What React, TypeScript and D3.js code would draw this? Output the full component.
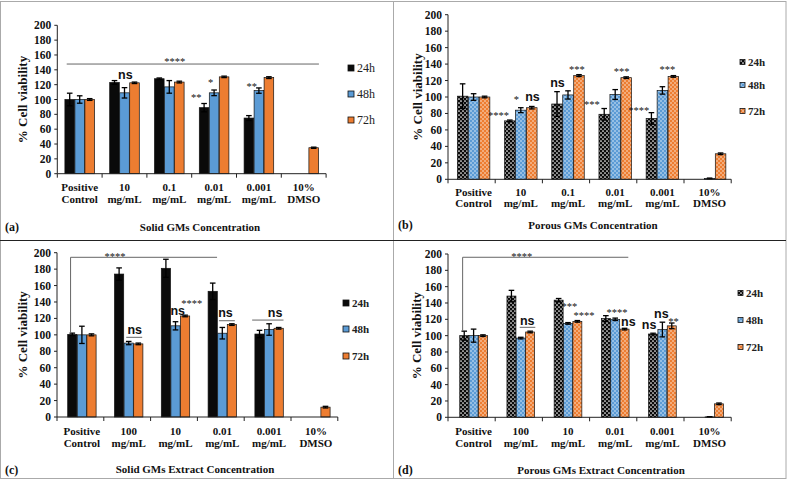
import React from "react";
import * as d3 from "d3";

const seriesNames = ["24h", "48h", "72h"];
const catsGMs = ["Positive|Control", "10|mg/mL", "0.1|mg/mL", "0.01|mg/mL", "0.001|mg/mL", "10%|DMSO"];
const catsExtract = ["Positive|Control", "100|mg/mL", "10|mg/mL", "0.01|mg/mL", "0.001|mg/mL", "10%|DMSO"];
const yTicks = [0, 20, 40, 60, 80, 100, 120, 140, 160, 180, 200];

// (a) Solid GMs
const a24 = [100, 123, 128, 89, 75, 0];
const a24e = [8.5, 2.5, 1, 5.6, 3.3, 0];
const a48 = [100, 109, 117, 109, 112, 0];
const a48e = [5, 7, 8.5, 3.8, 3.6, 0];
const a72 = [100, 122.5, 123.5, 130.5, 129.5, 35];
const a72e = [1.2, 1, 1.2, 1, 1.2, 0.8];

// (b) Porous GMs
const b24 = [101, 71, 91.5, 79, 74, 0];
const b24e = [15, 1, 15, 7, 7, 0];
const b48 = [100, 84, 102.5, 103, 108, 1];
const b48e = [4, 3, 5, 6, 4.5, 0.5];
const b72 = [100, 87, 126, 123.5, 125, 31];
const b72e = [1, 1.5, 1.2, 1, 1, 1];

// (c) Solid GMs extract
const c24 = [100.6, 174, 181, 153, 101, 0];
const c24e = [1.5, 7.5, 11, 10, 4.5, 0];
const c48 = [100, 90, 111, 102, 106.5, 0];
const c48e = [10.5, 2, 5, 7, 7, 0];
const c72 = [100, 89, 123, 112.5, 108, 12];
const c72e = [1.2, 1, 1, 1, 1, 1];

// (d) Porous GMs extract
const d24 = [100, 148.5, 143.5, 121, 102, 0];
const d24e = [5.5, 7, 2, 3.5, 1, 0];
const d48 = [100, 97, 115, 120, 107.5, 0.5];
const d48e = [8, 1, 1, 1.5, 9, 0.3];
const d72 = [100, 104.5, 117.5, 108, 112, 16.5];
const d72e = [1, 1, 1, 1, 3.5, 1];

// annotations: t = text, c = category position (fraction of category units), v = value level
const annA = [
  { t: "****", c: 2.62, v: 153 },
  { t: "ns", c: 1.52, v: 132 },
  { t: "**", c: 3.1, v: 104 },
  { t: "*", c: 3.42, v: 124 },
  { t: "**", c: 4.34, v: 119.5 },
];
const linesA = [{ c1: 0.21, c2: 5.84, v: 147.8 }];
const annB = [
  { t: "****", c: 1.07, v: 79 },
  { t: "*", c: 1.45, v: 98 },
  { t: "ns", c: 1.79, v: 99 },
  { t: "ns", c: 2.32, v: 117 },
  { t: "***", c: 2.73, v: 135 },
  { t: "***", c: 3.05, v: 93 },
  { t: "***", c: 3.68, v: 133 },
  { t: "****", c: 4.04, v: 85 },
  { t: "***", c: 4.65, v: 135 },
];
const linesB: { c1: number; c2: number; v: number }[] = [];
const annC = [
  { t: "****", c: 1.24, v: 197 },
  { t: "ns", c: 1.66, v: 105 },
  { t: "ns", c: 2.58, v: 128 },
  { t: "****", c: 2.88, v: 140 },
  { t: "ns", c: 3.6, v: 126 },
  { t: "ns", c: 4.66, v: 126 },
];
const linesC = [
  { c1: 1.48, c2: 1.82, v: 97 },
  { c1: 3.46, c2: 3.8, v: 117.2 },
  { c1: 4.17, c2: 4.84, v: 118 },
];
const bracketC = { c1: 0.29, c2: 3.42, top: 194.4, bottom: 102.5 };
const annD = [
  { t: "****", c: 1.56, v: 199 },
  { t: "ns", c: 1.68, v: 117 },
  { t: "***", c: 2.57, v: 137.5 },
  { t: "****", c: 2.88, v: 126.5 },
  { t: "****", c: 3.58, v: 130 },
  { t: "ns", c: 3.82, v: 115.5 },
  { t: "ns", c: 4.26, v: 112 },
  { t: "ns", c: 4.52, v: 125.5 },
  { t: "**", c: 4.78, v: 119.5 },
];
const linesD = [{ c1: 1.52, c2: 1.85, v: 110.2 }];
const bracketD = { c1: 0.31, c2: 3.82, top: 196, bottom: 106 };

const COLORS = ["#0a0a0a", "#5b9bd5", "#ed7d31"];
const SERIF = "'Liberation Serif', 'Times New Roman', serif";
const SANS = "'Liberation Sans', Arial, sans-serif";

type Cfg = {
  ax: number; w: number; y0: number; y1: number; gw: number; gs: number;
  patterned: boolean; legX: number; legYs: number[]; legBold: boolean; sq: number;
  title: string; titleX: number; titleY: number; tag: string; tagX: number; tagY: number;
  yTitleX: number; lab1: number; lab2: number;
};

function Panel({ cfg, cats, means, errs, ann, lines, bracket }: any) {
  const c: Cfg = cfg;
  const n = cats.length;
  const y = d3.scaleLinear().domain([0, 200]).range([c.y0, c.y1]);
  const xc = d3.scaleLinear().domain([0, n]).range([c.ax, c.ax + n * c.w]);
  const xb = d3.scaleBand<number>().domain(d3.range(n)).range([c.ax, c.ax + n * c.w]).padding(0);
  const xs = d3.scaleBand<string>().domain(seriesNames).range([0, c.gw]).paddingInner(0.04);
  const fills = seriesNames.map((s, i) => (c.patterned ? `url(#pat${i})` : COLORS[i]));
  const yMid = (c.y0 + c.y1) / 2;
  const axisEnd = c.ax + n * c.w;

  return (
    <g>
      {seriesNames.map((s, si) =>
        means[si].map((v: number, ci: number) => {
          if (v === 0) return null;
          const gx = (xb(ci) as number) + (c.w - c.gw) / 2 + c.gs + (xs(s) as number);
          return (
            <rect key={`b${si}-${ci}`} x={gx} y={y(v)} width={xs.bandwidth()} height={c.y0 - y(v)}
              fill={fills[si]} stroke="#111" strokeWidth={0.7} />
          );
        })
      )}
      {seriesNames.map((s, si) =>
        means[si].map((v: number, ci: number) => {
          const e = errs[si][ci];
          if (v === 0 || e === 0) return null;
          const cx = (xb(ci) as number) + (c.w - c.gw) / 2 + c.gs + (xs(s) as number) + xs.bandwidth() / 2;
          const yt = y(v + e), yb = y(Math.max(0, v - e));
          return (
            <g key={`e${si}-${ci}`} stroke="#000" strokeWidth={1.3}>
              <line x1={cx} x2={cx} y1={yt} y2={yb} />
              <line x1={cx - 2.8} x2={cx + 2.8} y1={yt} y2={yt} />
              <line x1={cx - 2.8} x2={cx + 2.8} y1={yb} y2={yb} />
            </g>
          );
        })
      )}
      <line x1={c.ax} x2={c.ax} y1={c.y0} y2={c.y1} stroke="#222" strokeWidth={1} />
      {yTicks.map((t) => (
        <g key={`yt${t}`}>
          <line x1={c.ax - 3} x2={c.ax} y1={y(t)} y2={y(t)} stroke="#222" />
          <text x={c.ax - 6} y={y(t)} dy="0.35em" textAnchor="end" fontFamily={SERIF}
            fontWeight="bold" fontSize={11.5} fill="#111">{t}</text>
        </g>
      ))}
      <line x1={c.ax} x2={axisEnd} y1={c.y0} y2={c.y0} stroke="#222" strokeWidth={1} />
      {d3.range(n + 1).map((i) => (
        <line key={`xt${i}`} x1={xc(i)} x2={xc(i)} y1={c.y0} y2={c.y0 + 4} stroke="#222" />
      ))}
      {cats.map((lab: string, i: number) => {
        const parts = lab.split("|");
        const cx = (xb(i) as number) + c.w / 2 + c.gs;
        return (
          <g key={`xl${i}`} fontFamily={SERIF} fontWeight="bold" fontSize={11} fill="#111" textAnchor="middle">
            <text x={cx} y={c.lab1}>{parts[0]}</text>
            <text x={cx} y={c.lab2}>{parts[1]}</text>
          </g>
        );
      })}
      <text transform={`translate(${c.yTitleX},${yMid}) rotate(-90)`} textAnchor="middle" dy="0.35em"
        fontFamily={SERIF} fontWeight="bold" fontSize={13} fill="#111">% Cell viability</text>
      <text x={c.titleX} y={c.titleY} textAnchor="middle" fontFamily={SERIF} fontWeight="bold" fontSize={11} fill="#111">{c.title}</text>
      <text x={c.tagX} y={c.tagY} fontFamily={SERIF} fontWeight="bold" fontSize={12} fill="#111">{c.tag}</text>
      {seriesNames.map((s, i) => (
        <g key={`lg${s}`}>
          <rect x={c.legX} y={c.legYs[i] - c.sq / 2} width={c.sq} height={c.sq} fill={fills[i]} stroke="#111" strokeWidth={0.8} />
          <text x={c.legX + c.sq + 3} y={c.legYs[i]} dy="0.35em" fontFamily={SERIF}
            fontWeight={c.legBold ? "bold" : "normal"} fontSize={c.legBold ? 11 : 12} fill="#222">{s}</text>
        </g>
      ))}
      {lines.map((l: any, i: number) => (
        <line key={`sl${i}`} x1={xc(l.c1)} x2={xc(l.c2)} y1={y(l.v)} y2={y(l.v)} stroke="#666" strokeWidth={1} />
      ))}
      {bracket && (
        <path d={`M${xc(bracket.c1)},${y(bracket.bottom)}V${y(bracket.top)}H${xc(bracket.c2)}`}
          fill="none" stroke="#666" strokeWidth={1} />
      )}
      {ann.map((a: any, i: number) => {
        const isNs = a.t === "ns";
        return (
          <text key={`an${i}`} x={xc(a.c)} y={y(a.v) + (isNs ? 3.5 : 4.8)} textAnchor="middle"
            fontFamily={isNs ? SANS : SERIF} fontWeight={isNs ? "bold" : "normal"}
            fontSize={isNs ? 12.5 : 10.5} fill="#111">{a.t}</text>
        );
      })}
    </g>
  );
}

const cfgA: Cfg = { ax: 57.3, w: 44.8, y0: 173.7, y1: 25.3, gw: 29.6, gs: 0, patterned: false, legX: 348, legYs: [68, 94, 120], legBold: false, sq: 6,
  title: "Solid GMs Concentration", titleX: 200, titleY: 231, tag: "(a)", tagX: 5, tagY: 231, yTitleX: 22, lab1: 191, lab2: 203 };
const cfgB: Cfg = { ax: 448, w: 47.2, y0: 179.3, y1: 14.7, gw: 32.5, gs: 2, patterned: true, legX: 740, legYs: [62, 85, 111], legBold: true, sq: 5,
  title: "Porous GMs Concentration", titleX: 593, titleY: 229, tag: "(b)", tagX: 398, tagY: 229, yTitleX: 417, lab1: 196, lab2: 207 };
const cfgC: Cfg = { ax: 57, w: 46.8, y0: 417, y1: 252.7, gw: 28.4, gs: 1.5, patterned: false, legX: 343, legYs: [303, 329, 356], legBold: true, sq: 6,
  title: "Solid GMs Extract Concentration", titleX: 195, titleY: 473, tag: "(c)", tagX: 5, tagY: 474, yTitleX: 22, lab1: 435, lab2: 447 };
const cfgD: Cfg = { ax: 448, w: 47.2, y0: 417.3, y1: 254, gw: 27.7, gs: 2, patterned: true, legX: 738, legYs: [293, 320, 347], legBold: true, sq: 5,
  title: "Porous GMs Extract Concentration", titleX: 601, titleY: 474, tag: "(d)", tagX: 398, tagY: 474, yTitleX: 416, lab1: 435, lab2: 447 };

export default function App() {
  return (
    <svg width={789} height={480} style={{ position: "absolute", left: 0, top: 0, background: "#fff" }}>
      <defs>
        {COLORS.map((col, i) => (
          <pattern key={i} id={`pat${i}`} width={4} height={4} patternUnits="userSpaceOnUse">
            <rect width={4} height={4} fill={col} />
            <circle cx={1} cy={1} r={i === 0 ? 0.85 : 0.7} fill="#fff" />
            <circle cx={3} cy={3} r={i === 0 ? 0.85 : 0.7} fill="#fff" />
          </pattern>
        ))}
      </defs>
      <rect x={0} y={0} width={789} height={480} fill="#fff" />
      <rect x={0.5} y={1.5} width={785.5} height={477} fill="none" stroke="#aaa" />
      <line x1={393.5} x2={393.5} y1={1.5} y2={478.5} stroke="#aaa" />
      <line x1={0} x2={786} y1={240.5} y2={240.5} stroke="#222" />
      <Panel cfg={cfgA} cats={catsGMs} means={[a24, a48, a72]} errs={[a24e, a48e, a72e]} ann={annA} lines={linesA} />
      <Panel cfg={cfgB} cats={catsGMs} means={[b24, b48, b72]} errs={[b24e, b48e, b72e]} ann={annB} lines={linesB} />
      <Panel cfg={cfgC} cats={catsExtract} means={[c24, c48, c72]} errs={[c24e, c48e, c72e]} ann={annC} lines={linesC} bracket={bracketC} />
      <Panel cfg={cfgD} cats={catsExtract} means={[d24, d48, d72]} errs={[d24e, d48e, d72e]} ann={annD} lines={linesD} bracket={bracketD} />
    </svg>
  );
}
